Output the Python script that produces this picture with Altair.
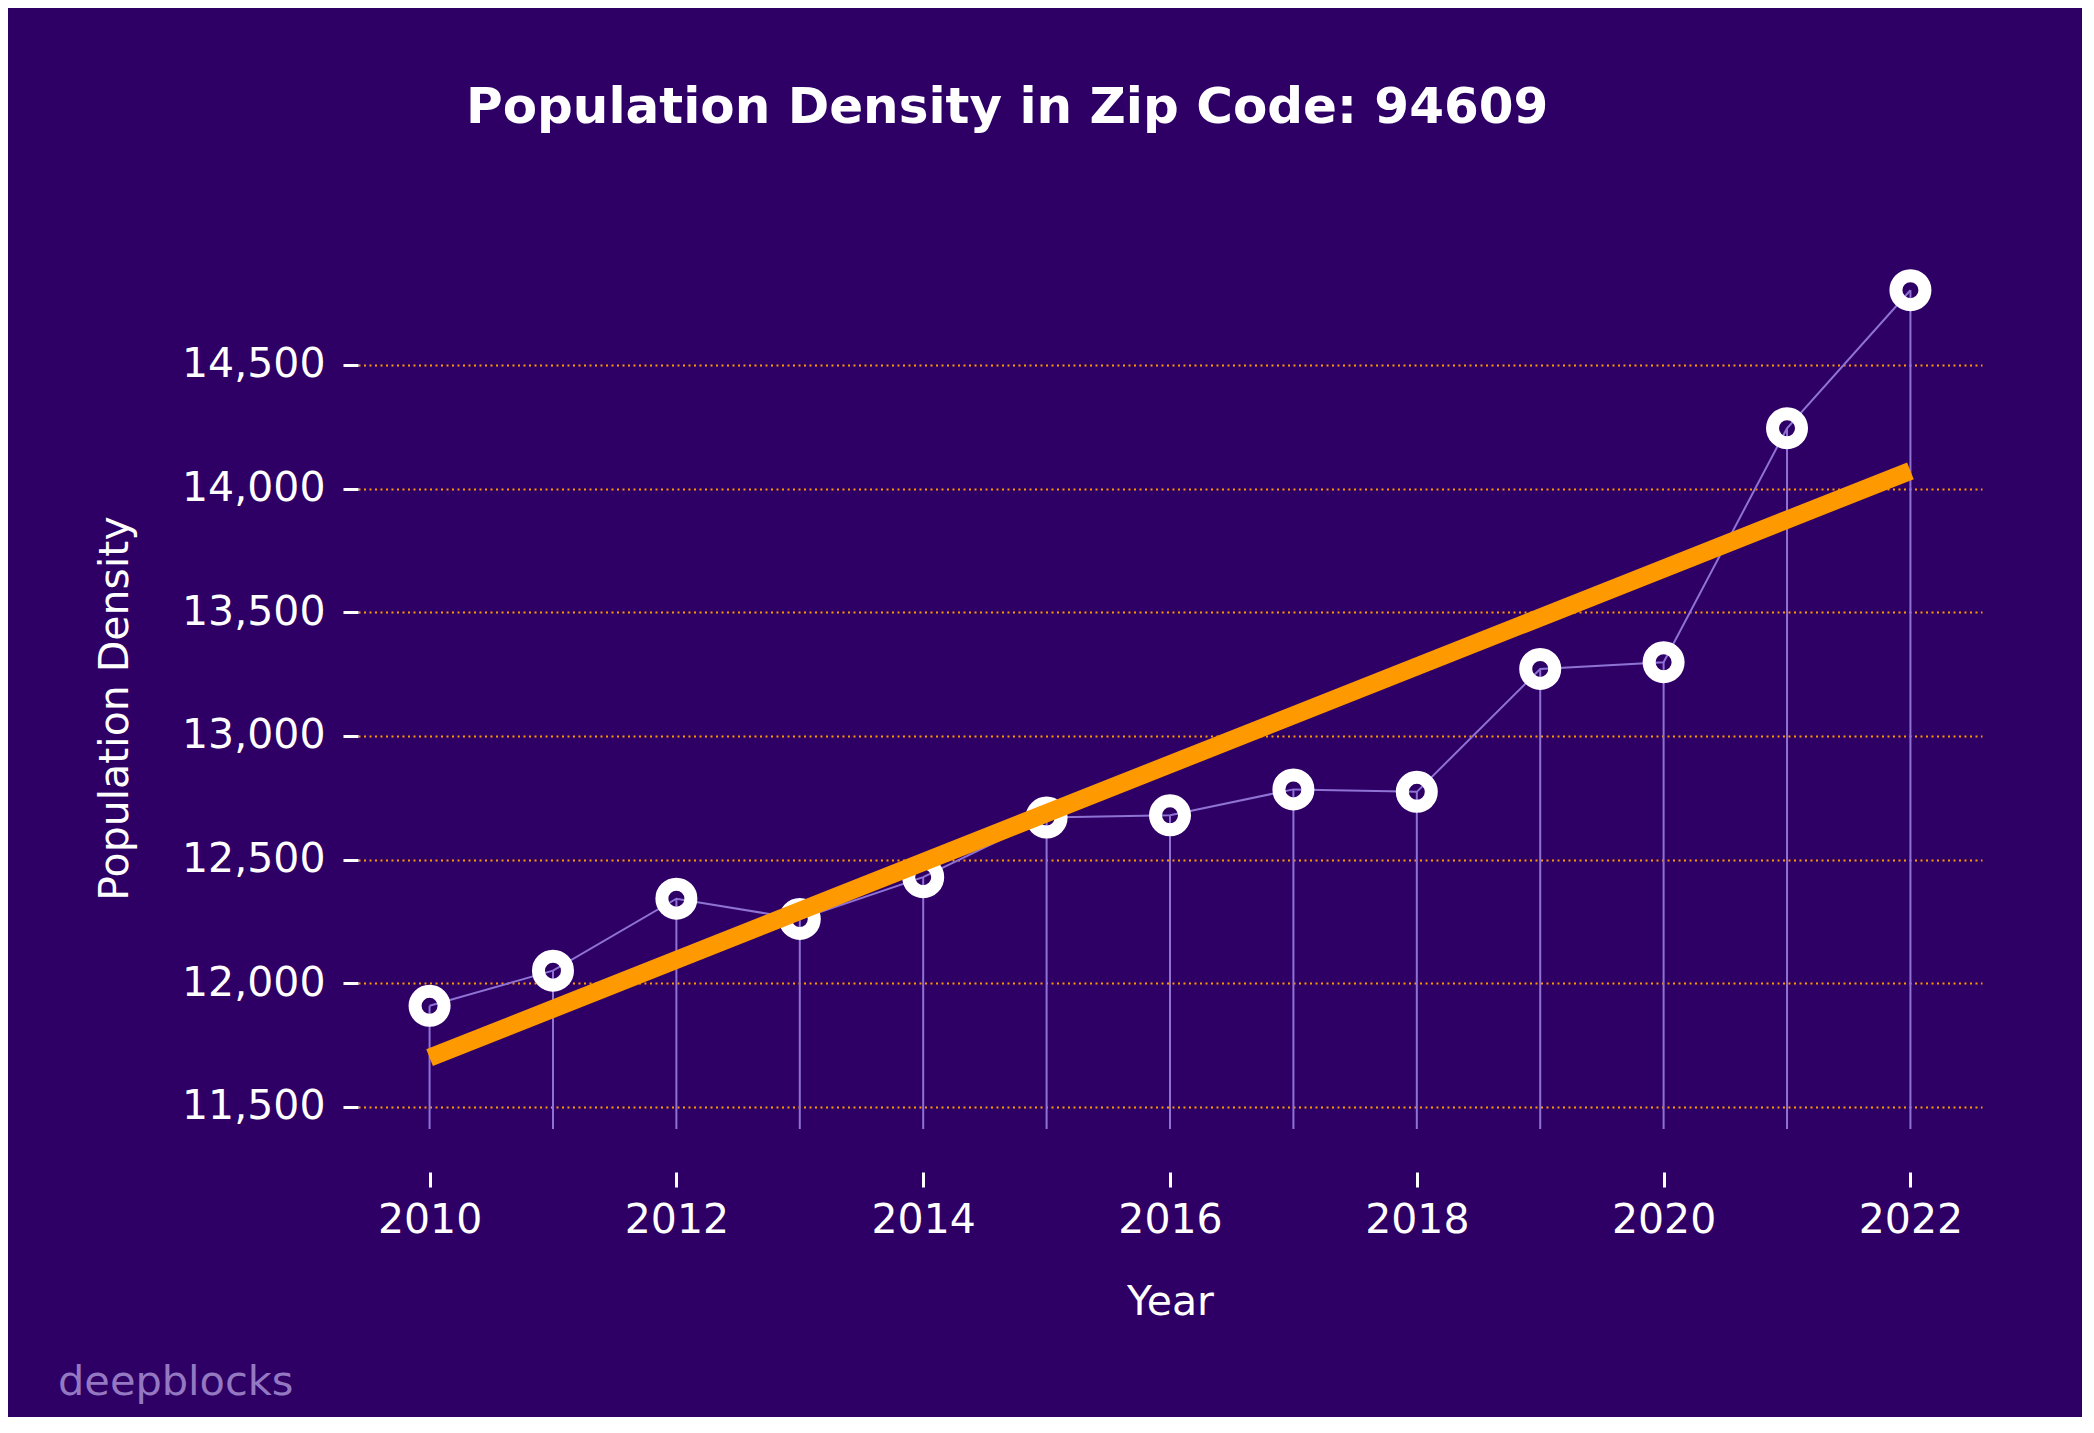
import altair as alt
import pandas as pd

# ---- data ----
years = [2010, 2011, 2012, 2013, 2014, 2015, 2016, 2017, 2018, 2019, 2020, 2021, 2022]
density = [11909, 12051, 12342, 12260, 12429, 12670, 12679, 12784, 12774, 13271, 13298, 14244, 14802]
x_ticks = [2010, 2012, 2014, 2016, 2018, 2020, 2022]
y_ticks = [11500, 12000, 12500, 13000, 13500, 14000, 14500]
title_text = "Population Density in Zip Code: 94609"
watermark = ["deepblocks"]

X_DOMAIN = [2009.42, 2022.58]
Y_DOMAIN = [11411, 14815]

BG = "#2E0066"
ORANGE = "#FF9900"
LAVENDER = "#8E72D4"
FONT = "DejaVu Sans"

df = pd.DataFrame({"Year": years, "Density": density})

W, H = 1624, 842

x_enc = alt.X(
    "Year:Q",
    scale=alt.Scale(domain=X_DOMAIN, nice=False, zero=False),
    axis=alt.Axis(
        values=x_ticks, format="d", title="Year", grid=False, domain=False,
        offset=43, tickSize=15, tickWidth=3, tickColor="white",
        labelFontSize=41, labelColor="white", labelFont=FONT, labelPadding=13,
        labelFlush=False,
        titleFontSize=41, titleColor="white", titleFont=FONT,
        titleFontWeight="normal", titlePadding=42,
    ),
)
y_enc = alt.Y(
    "Density:Q",
    scale=alt.Scale(domain=Y_DOMAIN, nice=False, zero=False),
    axis=alt.Axis(
        values=y_ticks, format=",.0f", title="Population Density", domain=False,
        grid=True, gridColor=ORANGE, gridDash=[2, 3.5], gridWidth=2,
        tickSize=15, tickWidth=3, tickColor="white",
        labelFontSize=41, labelColor="white", labelFont=FONT, labelPadding=18,
        titleFontSize=41, titleColor="white", titleFont=FONT,
        titleFontWeight="normal", titlePadding=45,
    ),
)

base = alt.Chart(df)

stems = base.mark_rule(color=LAVENDER, strokeWidth=2).encode(
    x=x_enc, y=y_enc, y2=alt.datum(Y_DOMAIN[0])
)
line = base.mark_line(color=LAVENDER, strokeWidth=2).encode(x="Year:Q", y="Density:Q")
points = base.mark_point(
    shape="circle", filled=False, stroke="white", strokeWidth=13, size=841, opacity=1
).encode(x="Year:Q", y="Density:Q")
trend = base.transform_regression("Year", "Density").mark_line(
    color=ORANGE, strokeWidth=18, strokeCap="butt"
).encode(x="Year:Q", y="Density:Q")

wm = alt.Chart(pd.DataFrame({"t": watermark})).mark_text(
    align="left", baseline="alphabetic", fontSize=41.5, font=FONT, color="#9479C2"
).encode(text="t:N", x=alt.value(-300), y=alt.value(1108))

chart = (
    alt.layer(stems, line, points, trend, wm)
    .properties(
        width=W,
        height=H,
        autosize=alt.AutoSizeParams(type="none"),
        padding={"left": 350, "top": 279, "right": 100, "bottom": 288},
        title=alt.TitleParams(
            text=title_text, anchor="start", frame="group", dx=108, offset=117,
            fontSize=50, font=FONT, fontWeight="bold", color="white",
        ),
    )
    .configure(background=BG)
    .configure_view(stroke=None)
)

chart.save("out.html", embed_options={"renderer": "svg", "actions": False})
